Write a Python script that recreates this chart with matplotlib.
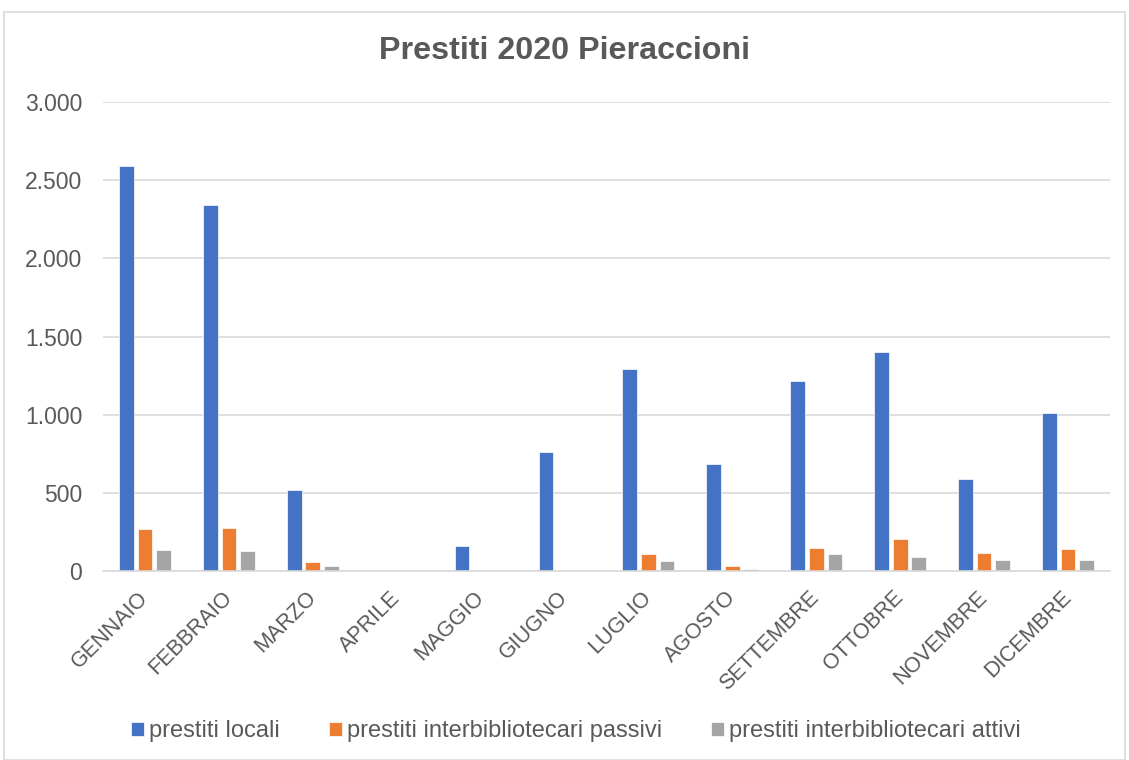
import numpy as np
import matplotlib.pyplot as plt
from matplotlib.patches import Rectangle
from matplotlib.ticker import FuncFormatter

mesi = ["GENNAIO", "FEBBRAIO", "MARZO", "APRILE", "MAGGIO", "GIUGNO",
        "LUGLIO", "AGOSTO", "SETTEMBRE", "OTTOBRE", "NOVEMBRE", "DICEMBRE"]
prestiti_locali = [2590, 2342, 516, 0, 158, 762, 1293, 685, 1216, 1402, 589, 1011]
passivi = [269, 275, 58, 0, 0, 0, 109, 30, 147, 207, 117, 141]
attivi = [132, 126, 34, 0, 0, 0, 66, 12, 109, 90, 70, 70]
serie_nomi = ["prestiti locali", "prestiti interbibliotecari passivi",
              "prestiti interbibliotecari attivi"]
colori = ["#4472C4", "#ED7D31", "#A5A5A5"]

plt.rcParams["font.family"] = ["Liberation Sans", "DejaVu Sans"]
text_col = "#595959"
grid_col = "#d9d9d9"

fig = plt.figure(figsize=(11.29, 7.60), dpi=100)
ax = fig.add_axes([103 / 1129, 1 - 571 / 760, (1110 - 103) / 1129, (571 - 102) / 760])

# bordo esterno del grafico
fig.patches.append(Rectangle((4 / 1129, 0), 1121 / 1129, (760 - 12) / 760,
                             transform=fig.transFigure, fill=False,
                             edgecolor=grid_col, lw=1.2))

x = np.arange(len(mesi))
w = 0.175
step = 0.222
for i, (vals, c, lab) in enumerate(zip([prestiti_locali, passivi, attivi], colori, serie_nomi)):
    ax.bar(x + (i - 1) * step, vals, width=w, color=c, label=lab,
           edgecolor="white", linewidth=0.5, zorder=3)

ax.set_xlim(-0.5, len(mesi) - 0.5)
ax.set_ylim(0, 3000)
ax.set_yticks(np.arange(0, 3001, 500))
ax.yaxis.set_major_formatter(FuncFormatter(lambda v, p: f"{int(v):,}".replace(",", ".")))
ax.grid(axis="y", color=grid_col, lw=1.2, zorder=0)
for s in ["top", "right", "left"]:
    ax.spines[s].set_visible(False)
ax.spines["bottom"].set_color(grid_col)
ax.spines["bottom"].set_linewidth(1.2)
ax.spines["bottom"].set_zorder(4)
ax.tick_params(length=0, labelcolor=text_col)
ax.tick_params(axis="y", pad=15, labelsize=16.5)
ax.set_xticks(x)
ax.set_xticklabels(mesi, rotation=45, ha="right", va="center", rotation_mode="anchor")
ax.tick_params(axis="x", pad=17, labelsize=15.5)

fig.text(0.5, 1 - 51 / 760, "Prestiti 2020 Pieraccioni", ha="center", va="center",
         fontsize=23.2, fontweight="bold", color=text_col)

fig.legend(loc="center", bbox_to_anchor=(0.51, 1 - 731 / 760), ncol=3, frameon=False,
           fontsize=17, labelcolor=text_col, handlelength=0.55, handleheight=0.55,
           handletextpad=0.2, columnspacing=2.1)

fig.savefig("out.png", dpi=100)
